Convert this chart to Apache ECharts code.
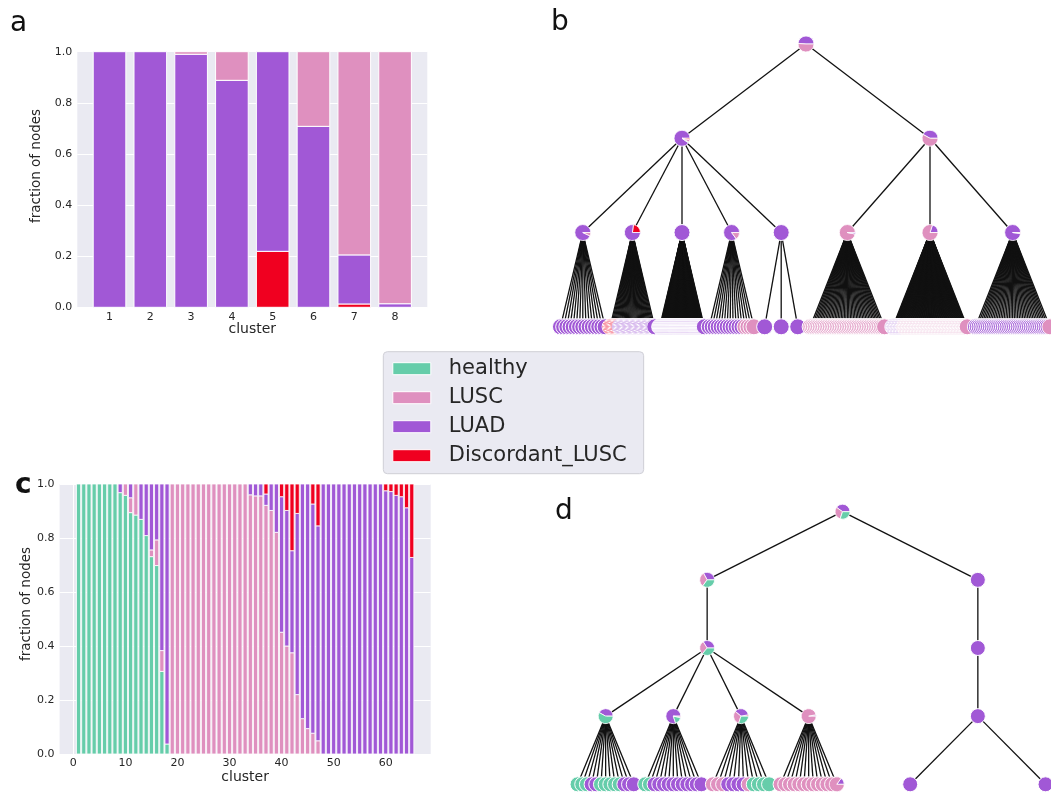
<!DOCTYPE html>
<html><head><meta charset="utf-8">
<script src="https://cdn.jsdelivr.net/npm/echarts@6/dist/echarts.min.js"></script>
<style>html,body{margin:0;padding:0;background:#fff}#chart{width:1051px;height:792px}</style>
</head><body><div id="chart"></div>
<script>
// ---------- classes ----------
const CLASS_NAMES = ['healthy', 'LUSC', 'LUAD', 'Discordant_LUSC'];
const CODE = {H: 'healthy', S: 'LUSC', A: 'LUAD', D: 'Discordant_LUSC'};
const COLOR = {healthy: '#66cdaa', LUSC: '#df90bf', LUAD: '#a158d6', Discordant_LUSC: '#f00020'};

// ---------- panel a ----------
const clustersA = [1, 2, 3, 4, 5, 6, 7, 8];
const discordantA = [0, 0, 0, 0, 0.219, 0, 0.013, 0];
const luadA = [1, 1, 0.99, 0.888, 0.781, 0.708, 0.192, 0.014];
const luscA = [0, 0, 0.01, 0.112, 0, 0.292, 0.795, 0.986];

// ---------- panel c ----------
const clustersC = [1,2,3,4,5,6,7,8,9,10,11,12,13,14,15,16,17,18,19,20,21,22,23,24,25,26,27,28,29,30,
  31,32,33,34,35,36,37,38,39,40,41,42,43,44,45,46,47,48,49,50,51,52,53,54,55,56,57,58,59,60,61,62,63,64,65];
const healthyC = [1,1,1,1,1,1,1,1,0.968,0.958,
  0.894,0.885,0.869,0.809,0.731,0.698,0.306,0.037,0,0,
  0,0,0,0,0,0,0,0,0,0,
  0,0,0,0,0,0,0,0,0,0,
  0,0,0,0,0,0,0,0,0,0,
  0,0,0,0,0,0,0,0,0,0,
  0,0,0,0,0];
const luscC = [0,0,0,0,0,0,0,0,0,0.042,
  0.055,0.115,0,0,0.025,0.095,0.077,0,1,1,
  1,1,1,1,1,1,1,1,1,1,
  1,1,1,0.960,0.956,0.956,0.921,0.902,0.821,0.451,
  0.400,0.375,0.220,0.131,0.094,0.077,0.049,0,0,0,
  0,0,0,0,0,0,0,0,0,0,
  0,0,0,0,0];
const luadC = [0,0,0,0,0,0,0,0,0.032,0,
  0.051,0,0.131,0.191,0.244,0.207,0.617,0.963,0,0,
  0,0,0,0,0,0,0,0,0,0,
  0,0,0,0.040,0.044,0.044,0.042,0.098,0.179,0.502,
  0.502,0.378,0.671,0.869,0.906,0.849,0.796,1,1,1,
  1,1,1,1,1,1,1,1,1,0.975,
  0.972,0.958,0.953,0.912,0.728];
const discordantC = [0,0,0,0,0,0,0,0,0,0,
  0,0,0,0,0,0,0,0,0,0,
  0,0,0,0,0,0,0,0,0,0,
  0,0,0,0,0,0,0.037,0,0,0.047,
  0.098,0.247,0.109,0,0,0.074,0.155,0,0,0,
  0,0,0,0,0,0,0,0,0,0.025,
  0.028,0.042,0.047,0.088,0.272];
const xTicksC = [0, 10, 20, 30, 40, 50, 60];

// ---------- panel b tree (compositions ccw from 3 o'clock; leaves as runs) ----------
const treeB = {comp: [['A', 0.49], ['S', 0.51]], children: [
  {comp: [['A', 0.90], ['H', 0.02], ['S', 0.05], ['D', 0.03]], children: [
    {comp: [['A', 0.93], ['S', 0.07]], leaves: [['A', 15]]},
    {comp: [['D', 0.23], ['A', 0.77]], leaves: [['D', 8], ['A', 30]]},
    {comp: [['A', 1]], leaves: [['A', 90]]},
    {comp: [['A', 0.85], ['S', 0.15]], leaves: [['A', 12], ['S', 4]]},
    {comp: [['A', 1]], leaves: [['A', 3]]}
  ]},
  {comp: [['A', 0.42], ['S', 0.58]], children: [
    {comp: [['S', 0.97], ['A', 0.03]], leaves: [['S', 45]]},
    {comp: [['A', 0.2], ['S', 0.8]], leaves: [['A', 15], ['S', 85]]},
    {comp: [['A', 0.98], ['S', 0.02]], leaves: [['A', 40], ['S', 1]]}
  ]}
]};

// ---------- panel d tree ----------
const treeD = {comp: [['A', 0.40], ['S', 0.30], ['H', 0.30]], children: [
  {comp: [['A', 0.33], ['S', 0.32], ['H', 0.35]], children: [
    {comp: [['A', 0.34], ['S', 0.30], ['H', 0.36]], children: [
      {comp: [['A', 0.42], ['H', 0.58]], leaves: [['H', 3], ['A', 2], ['H', 5], ['A', 3]]},
      {comp: [['A', 0.80], ['H', 0.17], ['S', 0.03]], leaves: [['H', 2], ['A', 11]]},
      {comp: [['D', 0.03], ['A', 0.36], ['S', 0.31], ['H', 0.30]], leaves: [['S', 3], ['A', 4], ['S', 1], ['H', 4]]},
      {comp: [['A', 0.03], ['S', 0.97]], leaves: [['S', 12], [[['A', 0.15], ['S', 0.85]], 1]]}
    ]}
  ]},
  {comp: [['A', 1]], children: [
    {comp: [['A', 1]], children: [
      {comp: [['A', 1]], leaves: [['A', 2]]}
    ]}
  ]}
]};

// ---------- tree layout (equal slot division) ----------
function layoutTree(root, leafCap) {
  const nodes = [], edges = [];
  function add(comp, x, depth, parent) {
    const n = {x: x, y: depth, comp: comp};
    nodes.push(n);
    if (parent) edges.push([parent.x, parent.y, x, depth]);
    return n;
  }
  function visit(t, x0, x1, depth, parent) {
    const me = add(t.comp, (x0 + x1) / 2, depth, parent);
    if (t.children) {
      const w = (x1 - x0) / t.children.length;
      t.children.forEach((c, i) => visit(c, x0 + i * w, x0 + (i + 1) * w, depth + 1, me));
    }
    if (t.leaves) {
      const seq = [];
      t.leaves.forEach(([c, k]) => { for (let i = 0; i < k; i++) seq.push(typeof c === 'string' ? [[c, 1]] : c); });
      const m = seq.length;
      const span = (x1 - x0) * Math.min((m - 1) / m, leafCap);
      seq.forEach((comp, i) => add(comp, m > 1 ? me.x - span / 2 + span * i / (m - 1) : me.x, depth + 1, me));
    }
  }
  visit(root, 0, 1, 0, null);
  return {nodes, edges};
}
const layB = layoutTree(treeB, 0.9);
const layD = layoutTree(treeD, 0.83);

function edgeRender(params, api) {
  const a = api.coord([api.value(0), api.value(1)]);
  const b = api.coord([api.value(2), api.value(3)]);
  return {type: 'line', shape: {x1: a[0], y1: a[1], x2: b[0], y2: b[1]},
    style: {stroke: '#111111', lineWidth: 1.3}};
}
function nodeRender(nodes, r) {
  return function (params, api) {
    const n = nodes[api.value(2)];
    const p = api.coord([api.value(0), api.value(1)]);
    if (n.comp.length === 1) {
      return {type: 'circle', shape: {cx: p[0], cy: p[1], r: r},
        style: {fill: COLOR[CODE[n.comp[0][0]]], stroke: '#fff', lineWidth: 1}};
    }
    const total = n.comp.reduce((s, c) => s + c[1], 0);
    let cum = 0;
    const children = n.comp.map(([c, f]) => {
      const a0 = cum / total; cum += f; const a1 = cum / total;
      return {type: 'sector', shape: {cx: p[0], cy: p[1], r: r, r0: 0,
        startAngle: -a0 * 2 * Math.PI, endAngle: -a1 * 2 * Math.PI, clockwise: false},
        style: {fill: COLOR[CODE[c]], stroke: '#fff', lineWidth: 0.8}};
    });
    return {type: 'group', children: children};
  };
}

// ---------- stacked bars (segments computed from the arrays, drawn through the axes) ----------
function stackLayers(xs, layers) {
  const base = xs.map(() => 0);
  return layers.map(vs => {
    const seg = [];
    xs.forEach((x, i) => {
      const v = vs[i];
      if (v > 0) seg.push([x, base[i], base[i] + v]);
      base[i] += v > 0 ? v : 0;
    });
    return seg;
  });
}
function barRender(wUnits, border) {
  return function (params, api) {
    const x = api.value(0), y0 = api.value(1), y1 = api.value(2);
    const p0 = api.coord([x - wUnits / 2, y1]);
    const p1 = api.coord([x + wUnits / 2, y0]);
    return {type: 'rect', shape: {x: p0[0], y: p0[1], width: p1[0] - p0[0], height: p1[1] - p0[1]},
      style: {fill: api.visual('color'), stroke: '#ffffff', lineWidth: border}};
  };
}
function barSeries(name, seg, axis, wUnits, border) {
  return {name: name, type: 'custom', xAxisIndex: axis, yAxisIndex: axis, clip: false, z: 2,
    data: seg, encode: {x: 0, y: [1, 2]}, itemStyle: {color: COLOR[name]},
    renderItem: barRender(wUnits, border), emphasis: {disabled: true}, silent: true};
}
const namesA = ['Discordant_LUSC', 'LUAD', 'LUSC'];
const segA = stackLayers(clustersA, [discordantA, luadA, luscA]);
const namesC = ['healthy', 'LUSC', 'LUAD', 'Discordant_LUSC'];
const segC = stackLayers(clustersC, [healthyC, luscC, luadC, discordantC]);

// ---------- helpers ----------
const FONT = 'DejaVu Sans';
const TXT = '#262626';
const yAxisCommon = (gi, gap, pad) => ({
  type: 'value', gridIndex: gi, min: 0, max: 1, interval: 0.2,
  axisLine: {show: false}, axisTick: {show: false},
  axisLabel: {formatter: v => v.toFixed(1), fontSize: 11, color: TXT, margin: 5, fontFamily: FONT},
  splitLine: {show: true, lineStyle: {color: '#ffffff', width: 1}},
  name: 'fraction of nodes', nameLocation: 'middle', nameRotate: 90, nameGap: gap, nameMoveOverlap: false,
  nameTextStyle: {fontSize: 13.5, color: TXT, fontFamily: FONT, padding: [0, 0, 0, pad]}
});

const option = {
  animation: false,
  textStyle: {fontFamily: FONT},
  grid: [
    {left: 77.3, top: 51.7, width: 350, height: 255.6, show: true, backgroundColor: '#EAEAF2', borderWidth: 0, outerBoundsMode: 'none', containLabel: false},
    {left: 59.6, top: 484, width: 371.1, height: 270, show: true, backgroundColor: '#EAEAF2', borderWidth: 0, outerBoundsMode: 'none', containLabel: false},
    {left: 558, top: 44, width: 496, height: 282.8, show: false, outerBoundsMode: 'none', containLabel: false},
    {left: 571.8, top: 511.7, width: 541.4, height: 272.6, show: false, outerBoundsMode: 'none', containLabel: false}
  ],
  xAxis: [
    {type: 'value', gridIndex: 0, min: 0.21, max: 8.79,
      axisLine: {show: false}, axisTick: {show: false, customValues: clustersA}, splitLine: {show: false},
      axisLabel: {customValues: clustersA, fontSize: 11, color: TXT, margin: 4, fontFamily: FONT},
      name: 'cluster', nameLocation: 'middle', nameGap: 15, nameMoveOverlap: false,
      nameTextStyle: {fontSize: 14, color: TXT, fontFamily: FONT}},
    {type: 'value', gridIndex: 1, min: -2.64, max: 68.64,
      axisLine: {show: false}, axisTick: {show: false, customValues: xTicksC},
      splitLine: {show: true, lineStyle: {color: '#ffffff', width: 1}},
      axisLabel: {customValues: xTicksC, fontSize: 11, color: TXT, margin: 4, fontFamily: FONT},
      name: 'cluster', nameLocation: 'middle', nameGap: 16, nameMoveOverlap: false,
      nameTextStyle: {fontSize: 14, color: TXT, fontFamily: FONT}},
    {type: 'value', gridIndex: 2, min: 0, max: 1, show: false},
    {type: 'value', gridIndex: 3, min: 0, max: 1, show: false}
  ],
  yAxis: [
    yAxisCommon(0, 33.5, 27),
    yAxisCommon(1, 26, 30),
    {type: 'value', gridIndex: 2, min: 0, max: 3, inverse: true, show: false},
    {type: 'value', gridIndex: 3, min: 0, max: 4, inverse: true, show: false}
  ],
  legend: {
    orient: 'vertical', left: 383.3, top: 351.7,
    data: CLASS_NAMES, icon: 'rect', itemWidth: 38, itemHeight: 12, itemGap: 7,
    padding: [6, 17, 7, 9], backgroundColor: '#EAEAF2', borderColor: '#cfcfd6', borderWidth: 1, borderRadius: 4,
    selectedMode: false,
    itemStyle: {borderColor: '#ffffff', borderWidth: 1},
    textStyle: {fontSize: 21, lineHeight: 22, color: TXT, fontFamily: FONT, padding: [0, 0, 0, 13]}
  },
  graphic: [
    {type: 'text', x: 10, y: 24, style: {text: 'a', fontSize: 28, fontFamily: FONT, fill: '#111', verticalAlign: 'middle'}},
    {type: 'text', x: 551, y: 23, style: {text: 'b', fontSize: 28, fontFamily: FONT, fill: '#111', verticalAlign: 'middle'}},
    {type: 'text', x: 15, y: 485.5, style: {text: 'c', fontSize: 28, fontWeight: 600, fontFamily: FONT, fill: '#111', verticalAlign: 'middle'}},
    {type: 'text', x: 555, y: 511.5, style: {text: 'd', fontSize: 28, fontFamily: FONT, fill: '#111', verticalAlign: 'middle'}}
  ],
  series: [].concat(
    namesA.map((n, i) => barSeries(n, segA[i], 0, 0.8, 1)),
    namesC.map((n, i) => barSeries(n, segC[i], 1, 0.8, 0.8)),
    [
      {type: 'custom', name: 'edgesB', xAxisIndex: 2, yAxisIndex: 2, clip: false, silent: true, z: 2,
        data: layB.edges, encode: {x: [0, 2], y: [1, 3]}, renderItem: edgeRender},
      {type: 'custom', name: 'nodesB', xAxisIndex: 2, yAxisIndex: 2, clip: false, silent: true, z: 3,
        data: layB.nodes.map((n, i) => [n.x, n.y, i]), encode: {x: 0, y: 1}, renderItem: nodeRender(layB.nodes, 8)},
      {type: 'custom', name: 'edgesD', xAxisIndex: 3, yAxisIndex: 3, clip: false, silent: true, z: 2,
        data: layD.edges, encode: {x: [0, 2], y: [1, 3]}, renderItem: edgeRender},
      {type: 'custom', name: 'nodesD', xAxisIndex: 3, yAxisIndex: 3, clip: false, silent: true, z: 3,
        data: layD.nodes.map((n, i) => [n.x, n.y, i]), encode: {x: 0, y: 1}, renderItem: nodeRender(layD.nodes, 7.5)}
    ]
  )
};
const chart = echarts.init(document.getElementById('chart'), null, {renderer: 'canvas'});
chart.setOption(option);
</script>
</body></html>
